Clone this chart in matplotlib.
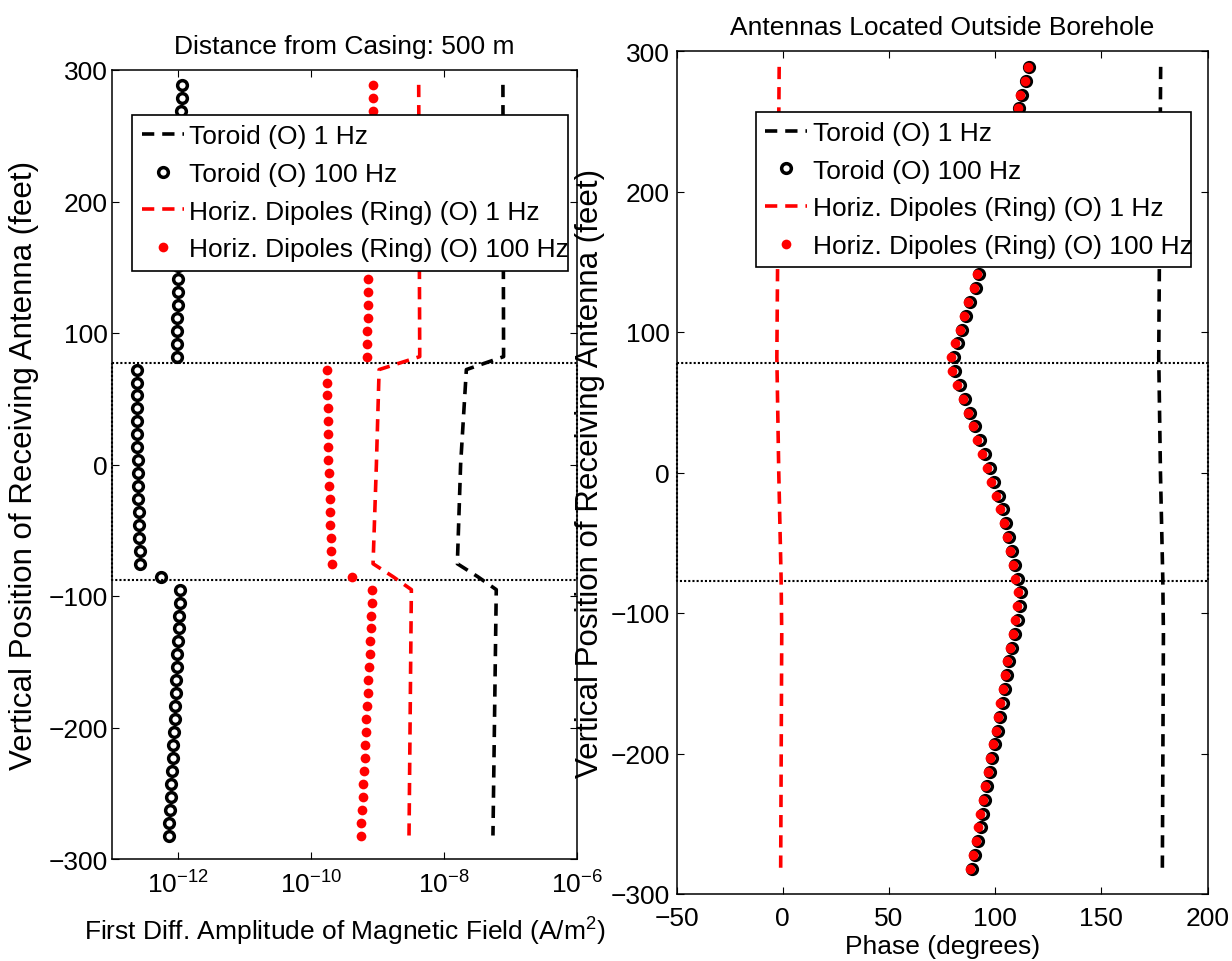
import numpy as np
import matplotlib
matplotlib.use("Agg")
import matplotlib.pyplot as plt
from matplotlib import font_manager
from matplotlib.ticker import NullLocator

FT_PER_M = 3.28084

# receiver depths (m), same grid for all marker series
depth_m = [-86, -83, -80, -77, -74, -71, -68, -65, -62, -59, -56, -53, -50, -47, -44,
           -41, -38, -35, -32, -29, -26, -23, -20, -17, -14, -11, -8, -5, -2, 1,
           4, 7, 10, 13, 16, 19, 22, 25, 28, 31, 34, 37, 40, 43, 46,
           49, 52, 55, 58, 61, 64, 67, 70, 73, 76, 79, 82, 85, 88]

# amplitude, toroid 100 Hz (A/m^2)
amp_toroid_100 = [0.721e-12, 0.730e-12, 0.746e-12, 0.764e-12, 0.782e-12, 0.800e-12, 0.819e-12,
                  0.838e-12, 0.857e-12, 0.877e-12, 0.897e-12, 0.918e-12, 0.929e-12, 0.939e-12,
                  0.961e-12, 0.984e-12, 1.006e-12, 1.030e-12, 1.043e-12, 1.055e-12,
                  0.540e-12,
                  0.267e-12, 0.264e-12, 0.258e-12, 0.255e-12, 0.252e-12, 0.249e-12, 0.246e-12,
                  0.243e-12, 0.243e-12, 0.240e-12, 0.238e-12, 0.235e-12, 0.235e-12, 0.235e-12,
                  0.238e-12, 0.235e-12,
                  0.950e-12, 0.950e-12, 0.961e-12, 0.961e-12, 0.972e-12, 0.972e-12, 0.972e-12,
                  0.984e-12, 0.989e-12, 0.995e-12, 1.006e-12, 1.012e-12, 1.019e-12, 1.030e-12,
                  1.043e-12, 1.055e-12, 1.067e-12, 1.080e-12, 1.090e-12, 1.105e-12, 1.130e-12,
                  1.143e-12]

# amplitude, horizontal dipoles 100 Hz
amp_dipole_100 = [5.62e-10, 5.69e-10, 5.82e-10, 5.96e-10, 6.10e-10, 6.24e-10, 6.38e-10,
                  6.53e-10, 6.61e-10, 6.76e-10, 6.92e-10, 7.08e-10, 7.25e-10, 7.42e-10,
                  7.59e-10, 7.77e-10, 7.86e-10, 8.04e-10, 8.23e-10, 8.32e-10,
                  4.16e-10,
                  2.08e-10, 2.01e-10, 1.97e-10, 1.94e-10, 1.92e-10, 1.90e-10, 1.86e-10,
                  1.83e-10, 1.81e-10, 1.81e-10, 1.79e-10, 1.77e-10, 1.77e-10, 1.75e-10,
                  1.75e-10, 1.73e-10,
                  6.84e-10, 7.00e-10, 7.00e-10, 7.08e-10, 7.16e-10, 7.16e-10, 7.25e-10,
                  7.33e-10, 7.42e-10, 7.50e-10, 7.59e-10, 7.68e-10, 7.77e-10, 7.86e-10,
                  7.95e-10, 8.04e-10, 8.13e-10, 8.23e-10, 8.32e-10, 8.42e-10, 8.51e-10,
                  8.51e-10]

# 1 Hz curves are drawn through their break points
line_depth_m = [88, 25, 22, 0, -23, -26, -29, -86]
amp_toroid_1 = [7.67e-8, 7.85e-8, 2.16e-8, 1.77e-8, 1.58e-8, 3.2e-8, 6.09e-8, 5.43e-8]
amp_dipole_1 = [4.14e-9, 4.29e-9, 1.05e-9, 9.55e-10, 8.51e-10, 1.70e-9, 3.21e-9, 2.96e-9]

# phase (degrees)
ph_toroid_100 = [89.2, 90.6, 92.0, 93.1, 94.2, 95.4, 96.3, 97.6, 98.7, 100.0, 101.4, 102.3,
                 103.5, 104.8, 105.7, 106.7, 108.0, 109.4, 110.7, 111.6,
                 112.0,
                 110.7, 109.4, 108.0, 106.7, 105.3, 103.5, 101.7, 99.4, 97.4, 95.1, 92.8,
                 90.6, 88.2, 85.9, 83.4, 80.9,
                 80.5, 82.3, 84.6, 86.4, 88.2, 91.0, 92.4, 94.0, 95.6, 97.2, 98.8,
                 100.3, 101.8, 103.3, 104.8, 106.3, 107.8, 109.6, 111.3, 112.5, 114.3, 115.8]
ph_dipole_100 = [88.0, 89.4, 90.8, 91.9, 93.0, 94.2, 95.1, 96.4, 97.5, 98.8, 100.2, 101.1,
                 102.3, 103.6, 104.5, 105.5, 106.8, 108.2, 109.5, 110.4,
                 110.8,
                 109.5, 108.2, 106.8, 105.5, 104.1, 102.3, 100.5, 98.2, 96.2, 93.9, 91.6,
                 89.4, 87.0, 84.7, 82.2, 79.8,
                 79.4, 81.2, 83.5, 85.3, 87.1, 89.9, 91.3, 92.9, 94.5, 96.1, 97.7,
                 99.2, 100.7, 102.3, 103.8, 105.4, 106.9, 108.8, 110.6, 111.9, 113.8, 115.4]

ph_line_depth_m = [88, 25, 0, -23, -35, -86]
ph_toroid_1 = [177.9, 177.0, 177.8, 178.9, 179.2, 178.7]
ph_dipole_1 = [-1.7, -2.8, -1.9, -0.8, -0.5, -1.0]

# zone boundaries (feet)
zone_left = [77, -88]
zone_right = [78, -77]

labels = ["Toroid (O) 1 Hz", "Toroid (O) 100 Hz",
          "Horiz. Dipoles (Ring) (O) 1 Hz", "Horiz. Dipoles (Ring) (O) 100 Hz"]

installed = {f.name for f in font_manager.fontManager.ttflist}
if "Liberation Sans Narrow" in installed:
    FONT, FS = "Liberation Sans Narrow", 22
else:
    FONT, FS = "Liberation Sans", 19
plt.rcParams["font.family"] = FONT
plt.rcParams["mathtext.fontset"] = "custom"
plt.rcParams["mathtext.rm"] = FONT
plt.rcParams["mathtext.it"] = FONT
plt.rcParams["mathtext.bf"] = FONT
plt.rcParams["mathtext.default"] = "regular"

W, H = 1232, 962
fig = plt.figure(figsize=(W / 100, H / 100), dpi=100)
ax1 = fig.add_axes([112 / W, 102 / H, 465 / W, 789 / H])
ax2 = fig.add_axes([676.6 / W, 67 / H, 531 / W, 843 / H])

ft = np.array(depth_m) * FT_PER_M
line_ft = np.array(line_depth_m) * FT_PER_M
ph_line_ft = np.array(ph_line_depth_m) * FT_PER_M

dash = dict(ls=(0, (3.4, 2.2)), lw=2.6)
circ = dict(ls="none", marker="o", ms=7, mfc="none", mec="k", mew=2.5)
dot = dict(ls="none", marker="o", ms=7, mfc="r", mec="r", mew=0)

ax1.plot(amp_toroid_1, line_ft, color="k", **dash)
ax1.plot(amp_toroid_100, ft, **circ)
ax1.plot(amp_dipole_1, line_ft, color="r", **dash)
ax1.plot(amp_dipole_100, ft, **dot)

ax2.plot(ph_toroid_1, ph_line_ft, color="k", **dash)
ax2.plot(ph_toroid_100, ft, **circ)
ax2.plot(ph_dipole_1, ph_line_ft, color="r", **dash)
ax2.plot(ph_dipole_100, ft, **dot)

ax1.set_xscale("log")
ax1.set_xlim(1e-13, 1e-6)
ax1.set_xticks([1e-12, 1e-10, 1e-8, 1e-6])
ax1.xaxis.set_minor_locator(NullLocator())
ax2.set_xlim(-50, 200)
ax2.set_xticks([-50, 0, 50, 100, 150, 200])

for ax, zone in ((ax1, zone_left), (ax2, zone_right)):
    x0, x1 = ax.get_xlim()
    ax.plot([x0, x1, x1, x0, x0], [zone[0], zone[0], zone[1], zone[1], zone[0]],
            color="k", ls=(0, (1.0, 1.0)), lw=1.5, clip_on=False, zorder=1)
    ax.set_ylim(-300, 300)
    ax.set_yticks([-300, -200, -100, 0, 100, 200, 300])
    ax.tick_params(direction="in", length=5, width=0.8, top=True, right=True,
                   labelsize=FS)
    for s in ax.spines.values():
        s.set_linewidth(1.1)
    ax.set_ylabel("Vertical Position of Receiving Antenna (feet)",
                  family="Liberation Sans", fontsize=22.5)

ax1.tick_params(axis="x", pad=8)
ax1.tick_params(axis="y", pad=3)
ax2.tick_params(axis="x", pad=9)
ax2.tick_params(axis="y", pad=4.8)

ax1.set_title("Distance from Casing: 500 m", fontsize=FS, pad=12)
ax2.set_title("Antennas Located Outside Borehole", fontsize=FS, pad=12)
ax1.set_xlabel("First Diff. Amplitude of Magnetic Field (A/m$^{2}$)", fontsize=FS)
ax2.set_xlabel("Phase (degrees)", fontsize=FS)
ax1.xaxis.set_label_coords(0.5, -0.071)
ax2.xaxis.set_label_coords(0.5, -0.047)
ax1.yaxis.set_label_coords(-0.158, 0.5)
ax2.yaxis.set_label_coords(-0.134, 0.5)


def add_legend(ax, x0, y0, w):
    leg = ax.legend(labels, loc="upper left",
                    bbox_to_anchor=(x0 / W, 1 - y0 / H, w / W, 0),
                    bbox_transform=fig.transFigure, mode="expand", borderaxespad=0,
                    fancybox=False, framealpha=1, edgecolor="k", numpoints=1,
                    handlelength=1.6, handletextpad=0.2, borderpad=0.35,
                    labelspacing=0.52, fontsize=FS)
    leg.get_frame().set_linewidth(1.2)


add_legend(ax1, 132.3, 116, 435.4)
add_legend(ax2, 756, 112.7, 435.4)

fig.savefig("out.png", dpi=100, facecolor="white")
